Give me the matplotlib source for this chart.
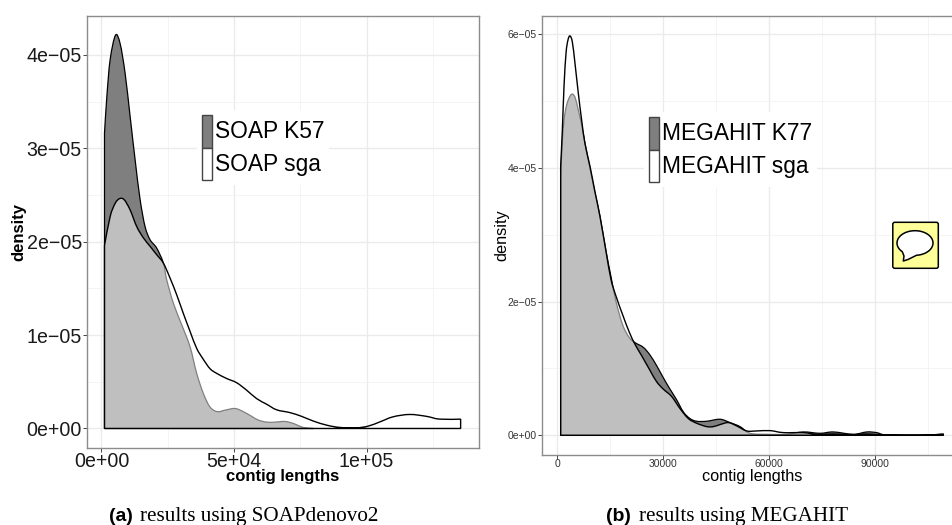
import numpy as np
import matplotlib
matplotlib.use("Agg")
import matplotlib.pyplot as plt
from matplotlib.path import Path
from matplotlib.patches import PathPatch, Patch, FancyBboxPatch
from matplotlib.transforms import Affine2D

plt.rcParams['font.family'] = ['Liberation Sans', 'DejaVu Sans']

# panel (a), density in units of 1e-5
soap_k57_x = [1130, 2010, 3270, 5280, 7030, 8920, 10800, 12690, 14570, 16450, 18340, 20850,
              23360, 24620, 27130, 30270, 33410, 35920, 38430, 40950, 43710, 46600, 50370,
              53510, 56650, 59160, 62300, 65440, 69200, 72350, 76110, 79880]
soap_k57_y = [3.16, 3.55, 3.95, 4.21, 4.12, 3.80, 3.34, 2.875, 2.45, 2.16, 2.02, 1.93,
              1.77, 1.59, 1.34, 1.11, 0.875, 0.59, 0.375, 0.23, 0.18, 0.196, 0.214,
              0.18, 0.13, 0.09, 0.068, 0.068, 0.075, 0.054, 0.011, 0.0]
soap_sga_x = [1130, 3270, 5150, 6780, 8540, 10800, 13310, 15830, 18340, 20850, 23360, 25870,
              28390, 30900, 33410, 35920, 38430, 40950, 43460, 47230, 50990, 54760, 58530,
              62300, 66070, 71090, 75490, 79880, 84910, 89930, 96210, 100610, 105000,
              110030, 116310, 122590, 127610, 135520]
soap_sga_y = [1.96, 2.27, 2.41, 2.46, 2.45, 2.34, 2.16, 2.04, 1.95, 1.86, 1.77, 1.61,
              1.43, 1.23, 1.04, 0.857, 0.74, 0.64, 0.59, 0.535, 0.49, 0.41, 0.32,
              0.26, 0.20, 0.17, 0.13, 0.08, 0.036, 0.011, 0.007, 0.025, 0.07,
              0.125, 0.15, 0.13, 0.10, 0.10]

# panel (b), density in units of 1e-5
mega_k77_x = [1040, 1420, 1980, 2740, 3680, 4430, 5190, 6040, 6980, 7920, 9340, 10750, 12170,
              13870, 15280, 16700, 18590, 20470, 22080, 24430, 26320, 28210, 30090, 31980,
              33870, 35750, 37640, 39530, 42360, 46130, 48960, 51790, 54620, 59340, 65000,
              69720, 74430, 78210, 83870, 87640, 90470, 93300, 102730, 109340]
mega_k77_y = [3.87, 4.31, 4.71, 4.94, 5.07, 5.10, 5.04, 4.86, 4.64, 4.36, 3.99, 3.62, 3.27,
              2.75, 2.37, 2.00, 1.65, 1.46, 1.385, 1.315, 1.20, 1.04, 0.86, 0.69,
              0.53, 0.35, 0.25, 0.21, 0.21, 0.24, 0.19, 0.13, 0.03, 0.015, 0.015,
              0.05, 0.03, 0.05, 0.015, 0.05, 0.04, 0.005, 0.0, 0.02]
mega_sga_x = [1040, 1510, 1980, 2550, 3110, 3680, 4340, 5090, 6040, 6980, 7920, 9340, 10750,
              12170, 13870, 15280, 16700, 18590, 20470, 22080, 23960, 26320, 28210, 30090,
              32450, 34810, 37170, 39530, 42360, 44250, 46130, 48490, 50850, 53680, 56510,
              60280, 64050, 69720, 73490, 78210, 83870, 87640, 93300, 102730, 109340]
mega_sga_y = [4.02, 4.56, 5.21, 5.71, 5.91, 5.97, 5.88, 5.56, 5.11, 4.71, 4.36, 4.02, 3.64,
              3.27, 2.75, 2.33, 2.08, 1.80, 1.54, 1.36, 1.19, 0.97, 0.80, 0.69,
              0.58, 0.40, 0.25, 0.18, 0.13, 0.13, 0.16, 0.19, 0.14, 0.065, 0.065,
              0.07, 0.04, 0.04, 0.015, 0.02, 0.01, 0.02, 0.005, 0.0, 0.015]

a_xticks = [0, 50000, 100000]
a_xticklabels = ['0e+00', '5e+04', '1e+05']
a_yticks = [0, 1, 2, 3, 4]
a_yticklabels = ['0e+00', '1e\u221205', '2e\u221205', '3e\u221205', '4e\u221205']
b_xticks = [0, 30000, 60000, 90000]
b_xticklabels = ['0', '30000', '60000', '90000']
b_yticks = [0, 2, 4, 6]
b_yticklabels = ['0e+00', '2e\u221205', '4e\u221205', '6e\u221205']

W, H = 952, 525
fig = plt.figure(figsize=(W / 100, H / 100), dpi=100)
px = Affine2D().scale(1, -1).translate(0, H)  # image pixels, y down


def smooth(xs, ys):
    # closed density outline, curve through the read points
    p = np.column_stack([xs, np.array(ys)])
    verts = [(xs[0], 0), tuple(p[0])]
    codes = [Path.MOVETO, Path.LINETO]
    for i in range(len(p) - 1):
        p0 = p[max(i - 1, 0)]
        p3 = p[min(i + 2, len(p) - 1)]
        c1 = p[i] + (p[i + 1] - p0) / 6
        c2 = p[i + 1] - (p3 - p[i]) / 6
        verts += [tuple(c1), tuple(c2), tuple(p[i + 1])]
        codes += [Path.CURVE4] * 3
    verts += [(xs[-1], 0), (xs[0], 0)]
    codes += [Path.LINETO, Path.CLOSEPOLY]
    return Path(verts, codes)


def panel(box, xlim, ylim, xt, xl, yt, yl, xminor, yminor, tick_fs, tick_col):
    l, t, r, b = box
    ax = fig.add_axes([l / W, 1 - b / H, (r - l) / W, (b - t) / H])
    ax.set_xlim(xlim)
    ax.set_ylim(ylim)
    ax.set_xticks(xt)
    ax.set_xticklabels(xl, fontsize=tick_fs, color=tick_col)
    ax.set_yticks(yt)
    ax.set_yticklabels(yl, fontsize=tick_fs, color=tick_col)
    ax.set_xticks(xminor, minor=True)
    ax.set_yticks(yminor, minor=True)
    ax.grid(which='major', color='#ebebeb', lw=1.0)
    ax.grid(which='minor', color='#f2f2f2', lw=0.6)
    ax.set_axisbelow(True)
    ax.tick_params(which='minor', length=0)
    ax.tick_params(which='major', length=3, width=0.7, color='#444444')
    ax.tick_params(axis='y', which='major', pad=0.3)
    ax.tick_params(axis='x', which='major', pad=0)
    for s in ax.spines.values():
        s.set_color('#8c8c8c')
        s.set_linewidth(1.0)
    return ax


def densities(ax, x1, y1, x2, y2):
    ax.add_patch(PathPatch(smooth(x1, y1), facecolor='#7f7f7f', edgecolor='black', lw=0.9, zorder=3))
    ax.add_patch(PathPatch(smooth(x2, y2), facecolor=(1, 1, 1, 0.5), edgecolor='black', lw=1.0, zorder=4))


def key(ax, labels, anchor):
    handles = [Patch(facecolor='#7f7f7f', edgecolor='#444444', lw=1.0),
               Patch(facecolor='white', edgecolor='#444444', lw=1.0)]
    leg = ax.legend(handles, labels, loc='upper left', bbox_to_anchor=anchor,
                    bbox_transform=px, fontsize=16.4, frameon=True, fancybox=False,
                    facecolor='white', edgecolor='none', framealpha=1,
                    handlelength=0.48, handleheight=1.85, handletextpad=0.12,
                    labelspacing=0, borderpad=0.2, borderaxespad=0)
    leg.set_zorder(5)


# (a)
ax1 = panel((86.5, 16, 479, 448), (-5660, 142450), (-0.209, 4.416),
            a_xticks, a_xticklabels, a_yticks, a_yticklabels,
            [25000, 75000, 125000], [0.5, 1.5, 2.5, 3.5], 14.1, '#1a1a1a')
densities(ax1, soap_k57_x, soap_k57_y, soap_sga_x, soap_sga_y)
key(ax1, ['SOAP K57', 'SOAP sga'], (197, 110))
ax1.set_xlabel('contig lengths', fontsize=12, fontweight='bold', va='center')
ax1.set_ylabel('density', fontsize=12, fontweight='bold', va='center')
ax1.xaxis.set_label_coords(0.5, -0.0665)
ax1.yaxis.set_label_coords(-0.172, 0.5)

# (b)
ax2 = panel((541.5, 16, 962, 455), (-4387, 114620), (-0.2945, 6.268),
            b_xticks, b_xticklabels, b_yticks, b_yticklabels,
            [15000, 45000, 75000, 105000], [1, 3, 5], 7.5, '#333333')
densities(ax2, mega_k77_x, mega_k77_y, mega_sga_x, mega_sga_y)
key(ax2, ['MEGAHIT K77', 'MEGAHIT sga'], (644, 112))
ax2.set_xlabel('contig lengths', fontsize=11.7, va='center')
ax2.set_ylabel('density', fontsize=11.7, va='center')
ax2.xaxis.set_label_coords(0.5, -0.05)
ax2.yaxis.set_label_coords(-0.0946, 0.5)

# note icon pasted on the page
fig.add_artist(FancyBboxPatch((892.8, 222.3), 45.5, 46, boxstyle='round,pad=0,rounding_size=2',
                              facecolor='#ffff99', edgecolor='black', lw=1.1, transform=px))
t = np.radians(np.arange(-85, 226, 5))
bubble = [(915 + 18 * np.cos(a), 243 - 12.3 * np.sin(a)) for a in t]
bubble += [(904, 256), (903.3, 261), (908, 259.5)]
fig.add_artist(PathPatch(Path(bubble + [bubble[0]], closed=True), facecolor='white',
                         edgecolor='black', lw=1.1, transform=px, joinstyle='round'))

# captions
fig.text(109, 521, '(a)', fontsize=14, fontweight='bold', transform=px, va='baseline')
fig.text(140, 521, 'results using SOAPdenovo2', fontsize=15.2, family='Liberation Serif',
         transform=px, va='baseline')
fig.text(606, 521, '(b)', fontsize=14, fontweight='bold', transform=px, va='baseline')
fig.text(638.7, 521, 'results using MEGAHIT', fontsize=15.2, family='Liberation Serif',
         transform=px, va='baseline')

fig.savefig('out.png', dpi=100)
